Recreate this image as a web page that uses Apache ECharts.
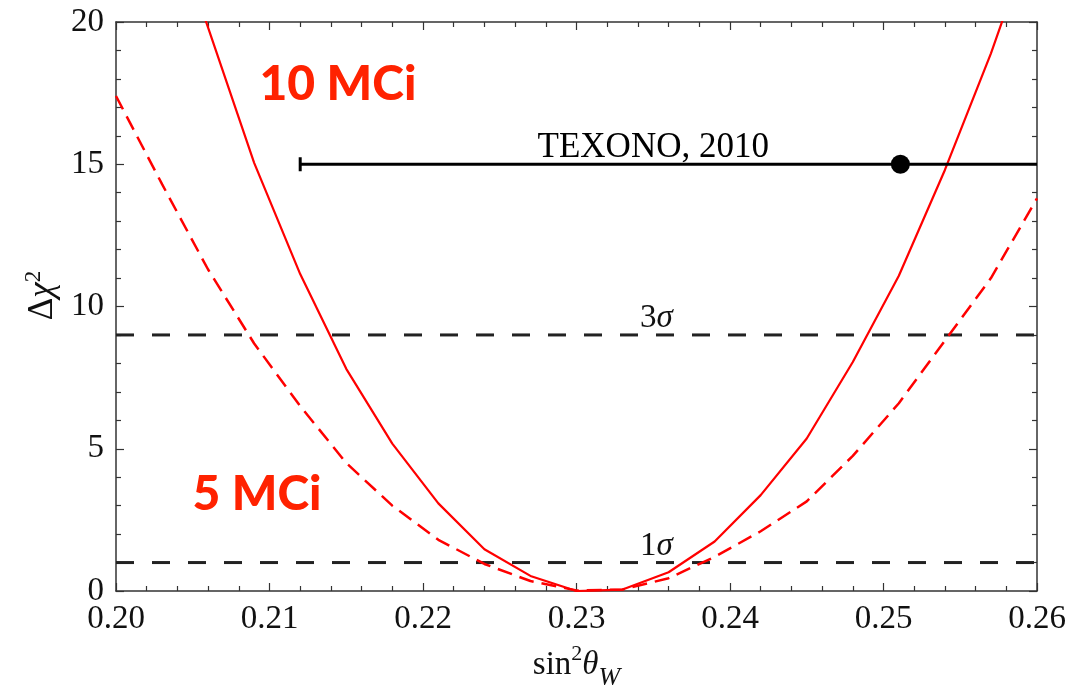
<!DOCTYPE html>
<html>
<head>
<meta charset="utf-8">
<script src="https://cdn.jsdelivr.net/npm/echarts@6/dist/echarts.min.js"></script>
<style>
  html, body { margin: 0; padding: 0; background: #fff; }
  #chart { width: 1072px; height: 696px; }
</style>
</head>
<body>
<div id="chart"></div>
<script>
// ---- data ----
const sin2Solid = [0.203, 0.206, 0.209, 0.212, 0.215, 0.218, 0.221, 0.224, 0.227, 0.230,
                   0.233, 0.236, 0.239, 0.242, 0.245, 0.248, 0.251, 0.254, 0.257, 0.260];
const chi2_10MCi = [24.5, 19.8, 15.05, 11.14, 7.81, 5.18, 3.08, 1.47, 0.53, 0.0,
                    0.05, 0.66, 1.74, 3.37, 5.36, 8.05, 11.08, 14.8, 18.9, 23.5];
const sin2Dashed = [0.200, 0.203, 0.206, 0.209, 0.212, 0.215, 0.218, 0.221, 0.224, 0.227, 0.230,
                    0.233, 0.236, 0.239, 0.242, 0.245, 0.248, 0.251, 0.254, 0.257, 0.260];
const chi2_5MCi = [17.4, 14.3, 11.3, 8.7, 6.5, 4.5, 3.0, 1.8, 0.95, 0.35, 0.02,
                   0.05, 0.45, 1.2, 2.1, 3.15, 4.75, 6.6, 8.8, 11.0, 13.8];
const sigmaLevels = [1, 9];
const sigmaNumbers = ['1', '3'];
const texonoCentral = 0.2511;
const texonoLower = 0.212;
const texonoChi2 = 15;
const texonoLabel = 'TEXONO, 2010';
const curveLabels = ['10 MCi', '5 MCi'];

const X_MIN = 0.20, X_MAX = 0.26, Y_MIN = 0, Y_MAX = 20;
const SERIF = '"Liberation Serif", "DejaVu Serif", serif';
const RED = '#ff0000';
const LABEL_RED = '#ff2200';

const chart = echarts.init(document.getElementById('chart'), null, { renderer: 'canvas' });

function xAxisBase(extra) {
  return Object.assign({
    type: 'value', min: X_MIN, max: X_MAX, interval: 0.01,
    axisLine: { show: true, onZero: false, lineStyle: { color: '#333', width: 1.5 } },
    axisTick: { show: true, inside: true, length: 8, lineStyle: { color: '#333', width: 1.2 } },
    minorTick: { show: true, splitNumber: 5, length: 5, lineStyle: { color: '#333', width: 1.2 } },
    splitLine: { show: false },
    minorSplitLine: { show: false }
  }, extra);
}
function yAxisBase(extra) {
  return Object.assign({
    type: 'value', min: Y_MIN, max: Y_MAX, interval: 5,
    axisLine: { show: true, onZero: false, lineStyle: { color: '#333', width: 1.5 } },
    axisTick: { show: true, inside: true, length: 8, lineStyle: { color: '#333', width: 1.2 } },
    minorTick: { show: true, splitNumber: 5, length: 5, lineStyle: { color: '#333', width: 1.2 } },
    splitLine: { show: false },
    minorSplitLine: { show: false }
  }, extra);
}

const sigmaSeries = sigmaLevels.map((lvl, i) => ({
  type: 'line',
  name: sigmaNumbers[i] + 'σ',
  data: [[X_MIN, lvl], [X_MAX, lvl]],
  showSymbol: false,
  silent: true,
  z: 2,
  lineStyle: { color: '#222', width: 3, type: [18, 18] }
}));

const sigmaLabelSeries = {
  type: 'scatter',
  symbolSize: 0,
  silent: true,
  z: 5,
  itemStyle: { opacity: 1 },
  data: sigmaLevels.map((lvl, i) => ({ value: [0.2352, lvl], name: sigmaNumbers[i] })),
  label: {
    show: true, position: 'top', distance: 0,
    formatter: p => '{n|' + p.name + '}{g|σ}',
    rich: {
      n: { color: '#111', fontFamily: SERIF, fontSize: 33 },
      g: { color: '#111', fontFamily: SERIF, fontSize: 33, fontStyle: 'italic' }
    }
  }
};

const option = {
  backgroundColor: '#fff',
  animation: false,
  grid: { left: 116, right: 35, top: 22, bottom: 103, containLabel: false },
  xAxis: [
    xAxisBase({
      position: 'bottom',
      axisLabel: {
        show: true, margin: 12, color: '#111', fontFamily: SERIF, fontSize: 33,
        formatter: v => v.toFixed(2)
      },
      name: '{n|sin}{s|2}{t|θ}{w|W}',
      nameLocation: 'middle',
      nameGap: 52,
      nameTextStyle: {
        rich: {
          n: { fontFamily: SERIF, fontSize: 33, color: '#111', verticalAlign: 'top', lineHeight: 36, padding: [6, 0, 0, 0] },
          s: { fontFamily: SERIF, fontSize: 22, color: '#111', verticalAlign: 'top', lineHeight: 22 },
          t: { fontFamily: SERIF, fontSize: 33, fontStyle: 'italic', color: '#111', verticalAlign: 'top', lineHeight: 36, padding: [6, 0, 0, 0] },
          w: { fontFamily: SERIF, fontSize: 26, fontStyle: 'italic', color: '#111', verticalAlign: 'top', lineHeight: 26, padding: [22, 0, 0, 0] }
        }
      }
    }),
    xAxisBase({ position: 'top', axisLabel: { show: false } })
  ],
  yAxis: [
    yAxisBase({
      position: 'left',
      axisLabel: { show: true, margin: 12, color: '#111', fontFamily: SERIF, fontSize: 33 },
      name: '{d|Δ}{c|χ}{s|2}',
      nameLocation: 'middle',
      nameGap: 56,
      nameTextStyle: {
        padding: [0, 0, 0, 22],
        rich: {
          d: { fontFamily: SERIF, fontSize: 35, color: '#111', verticalAlign: 'bottom', lineHeight: 38 },
          c: { fontFamily: SERIF, fontSize: 35, fontStyle: 'italic', color: '#111', verticalAlign: 'bottom', lineHeight: 38 },
          s: { fontFamily: SERIF, fontSize: 23, color: '#111', verticalAlign: 'top', lineHeight: 38 }
        }
      }
    }),
    yAxisBase({ position: 'right', axisLabel: { show: false } })
  ],
  series: [
    ...sigmaSeries,
    sigmaLabelSeries,
    {
      type: 'line',
      name: curveLabels[1],
      data: sin2Dashed.map((x, i) => [x, chi2_5MCi[i]]),
      showSymbol: false,
      silent: true,
      z: 3,
      lineStyle: { color: RED, width: 2.5, type: [15, 8] }
    },
    {
      type: 'line',
      name: curveLabels[0],
      data: sin2Solid.map((x, i) => [x, chi2_10MCi[i]]),
      showSymbol: false,
      silent: true,
      z: 3,
      lineStyle: { color: RED, width: 2.2 }
    },
    {
      type: 'line',
      name: texonoLabel,
      data: [[texonoLower, texonoChi2], [X_MAX, texonoChi2]],
      showSymbol: false,
      silent: true,
      z: 4,
      lineStyle: { color: '#000', width: 3 }
    },
    {
      type: 'scatter',
      silent: true,
      z: 4,
      symbol: 'rect',
      symbolSize: [3, 14],
      itemStyle: { color: '#000', opacity: 1 },
      data: [[texonoLower, texonoChi2]]
    },
    {
      type: 'scatter',
      silent: true,
      z: 6,
      symbol: 'circle',
      symbolSize: 19,
      itemStyle: { color: '#000', opacity: 1 },
      data: [[texonoCentral, texonoChi2]]
    },
    {
      type: 'scatter',
      symbolSize: 0,
      silent: true,
      z: 5,
      itemStyle: { opacity: 1 },
      data: [{ value: [0.2350, texonoChi2], name: texonoLabel }],
      label: {
        show: true, position: 'top', distance: -1,
        formatter: p => p.name,
        color: '#000', fontFamily: SERIF, fontSize: 35
      }
    },
    {
      type: 'scatter',
      symbolSize: 0,
      silent: true,
      z: 5,
      itemStyle: { opacity: 1 },
      data: [
        { value: [0.21446, 17.79], name: curveLabels[0] },
        { value: [0.20919, 3.40], name: curveLabels[1] }
      ],
      label: {
        show: true, position: 'inside',
        formatter: p => p.name,
        color: LABEL_RED, fontFamily: 'Lato, "Open Sans", sans-serif', fontWeight: 900, fontSize: 48
      }
    }
  ]
};

chart.setOption(option);
</script>
</body>
</html>
